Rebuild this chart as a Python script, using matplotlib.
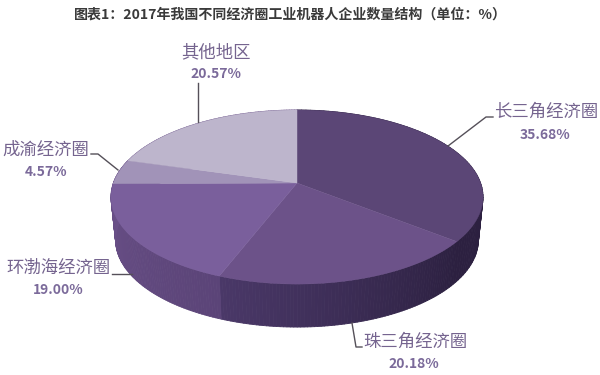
import numpy as np
import matplotlib
matplotlib.use("Agg")
import matplotlib.pyplot as plt
from matplotlib.collections import PolyCollection
from matplotlib.colors import to_rgb

plt.rcParams['font.family'] = ['Noto Sans CJK SC', 'DejaVu Sans']

title = "图表1：2017年我国不同经济圈工业机器人企业数量结构（单位：%）"
regions = ["长三角经济圈", "珠三角经济圈", "环渤海经济圈", "成渝经济圈", "其他地区"]
shares = [35.68, 20.18, 19.00, 4.57, 20.57]

top_colors = ["#5b4676", "#6c5289", "#7a5f9c", "#a193b8", "#bdb5cc"]
# side colour at the start and end of each slice (clockwise)
side_colors = [("#2c2040", "#2c2040"), ("#2c2040", "#4a3868"),
               ("#5b4478", "#6a5088"), ("#6a5088", "#6a5088"), ("#6a5088", "#6a5088")]

# label centre, percent centre, leader line (pixels)
label_pos = [(546, 112), (415, 342), (59, 268), (46, 150), (216, 52)]
pct_pos = [(545, 135), (414, 364), (58, 290), (46, 172), (216, 74)]
leaders = [[(448, 146), (486, 117), (493, 117)],
           [(352, 323), (356, 347), (362, 347)],
           [(112, 274), (132, 274)],
           [(91, 154), (98, 154), (118, 170)],
           [(198, 83), (198, 122)]]

cx, cy = 297, 183
a, b, k = 183.6, 84.8, 0.161
depth = 43


def rim(t, shrink=1.0, drop=0):
    # circle seen in perspective, t clockwise from 12 o'clock
    u, v = np.sin(t), np.cos(t)
    d = 1 + k * v
    return np.column_stack((cx + shrink * a * u / d, cy - b * v / d + drop))


fig = plt.figure(figsize=(6, 3.75), dpi=100)
ax = fig.add_axes([0, 0, 1, 1])
ax.set_xlim(0, 600)
ax.set_ylim(375, 0)
ax.axis("off")

edges = np.radians(np.cumsum([0] + shares) * 3.6)

# sides first, in thin strips for the shading
for i in range(len(shares)):
    t = np.linspace(edges[i], edges[i + 1], 80)
    up = rim(t)
    low = rim(t, 0.975, depth)
    c0, c1 = np.array(to_rgb(side_colors[i][0])), np.array(to_rgb(side_colors[i][1]))
    polys, cols = [], []
    for j in range(len(t) - 1):
        polys.append([up[j], up[j + 1], low[j + 1], low[j]])
        cols.append(c0 + (c1 - c0) * j / (len(t) - 2))
    ax.add_collection(PolyCollection(polys, facecolors=cols, edgecolors=cols, linewidths=0.6, zorder=1))

# top face
for i in range(len(shares)):
    t = np.linspace(edges[i], edges[i + 1], 150)
    pts = np.vstack(([cx, cy], rim(t)))
    ax.fill(pts[:, 0], pts[:, 1], color=top_colors[i], lw=0.3, zorder=2)

for i, region in enumerate(regions):
    xs, ys = zip(*leaders[i])
    ax.plot(xs, ys, color="#555059", lw=1.0, zorder=3)
    ax.text(*label_pos[i], region, color="#75648f", fontsize=12.5, ha="center", va="center")
    ax.text(*pct_pos[i], f"{shares[i]:.2f}%", color="#7b6a9a", fontsize=10,
            fontweight="bold", ha="center", va="center")

ax.text(290, 15, title, color="#3a3a3a", fontsize=10.1, fontweight="bold", ha="center", va="center")

fig.savefig("out.png", dpi=100)
